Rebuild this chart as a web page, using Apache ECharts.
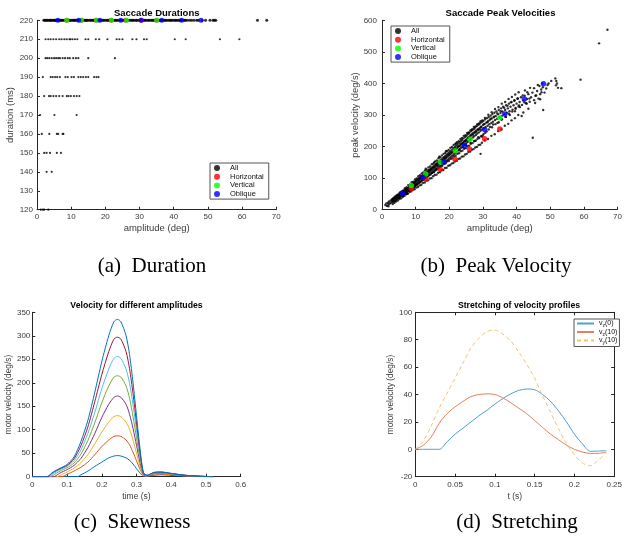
<!DOCTYPE html>
<html><head><meta charset="utf-8">
<script src="https://cdn.jsdelivr.net/npm/echarts@6/dist/echarts.min.js"></script>
<style>html,body{margin:0;padding:0;background:#fff}#c{width:625px;height:537px}</style>
</head><body><div id="c"></div>
<script>
// ---------- (a) Saccade Durations: amplitudes per duration row ----------
const durLevels = [220, 210, 200, 190, 180, 170, 160, 150, 140, 120];
const d220 = [2.0,2.3,2.6,2.9,3.2,3.6,3.9,4.1,4.4,4.8,5.1,5.3,5.5,6.0,6.4,6.7,7.0,7.3,7.6,8.0,8.3,8.5,8.8,9.2,9.5,9.7,10.0,10.4,10.7,10.9,11.2,11.6,11.9,12.1,12.4,12.9,13.3,13.6,14.0,14.3,14.5,14.8,15.3,15.7,16.0,16.4,16.7,16.9,17.2,17.7,18.1,18.4,18.9,19.3,19.6,20.1,20.5,20.8,21.2,21.5,21.7,22.0,22.5,22.9,23.2,23.6,24.1,24.4,24.9,25.3,25.6,26.0,26.5,26.8,27.3,27.7,28.0,28.4,28.9,29.2,29.7,30.1,30.4,30.9,31.3,31.6,32.0,32.5,32.8,33.3,33.7,34.0,34.4,34.9,35.2,35.7,36.1,36.4,36.9,37.3,37.6,38.0,38.5,38.9,39.2,39.6,40.1,40.5,40.8,41.3,41.7,42.0,42.6,43.1,43.4,43.9,44.6,45.2,45.9,46.7,47.2,48.3,49.3,50.6,51.5,51.9,52.3,64.5,67.2];
const d210 = [2.5,3.3,4.0,4.8,5.6,6.5,7.2,8.0,8.7,9.5,9.8,10.4,11.1,11.8,14.2,15.0,17.2,18.2,20.6,23.3,24.1,25.0,27.9,29.1,31.3,32.1,40.3,43.5,53.5,59.2];
const d200 = [2.5,3.0,3.6,4.3,5.0,5.6,6.2,6.7,7.5,8.2,9.0,9.6,10.6,11.4,12.1,15.0,22.8];
const d190 = [1.7,4.0,4.6,5.3,5.9,6.7,8.3,9.0,10.1,10.8,12.1,12.8,13.5,14.3,15.0,16.7,17.4,18.0];
const d180 = [2.1,3.5,4.0,4.8,5.6,6.5,7.5,8.7,9.2,9.9,10.8,11.6,12.4];
const d170 = [0.9,5.1,11.6];
const d160 = [1.4,3.6,5.8,6.2,7.5,7.7];
const d150 = [2.1,2.8,3.8,5.8,7.0];
const d140 = [2.8,4.3];
const d120 = [1.1,1.7,2.1,3.3];
const durRows = [d220, d210, d200, d190, d180, d170, d160, d150, d140, d120];

// Category targets (amplitude, duration, peak velocity)
const horizAmp = [8.7,13.0,17.3,21.7,26.0,30.5,35.0];
const horizDur = [220,220,220,220,220,220,220];
const horizVel = [67,97,128,160,192,225,256];
const vertAmp = [8.7,13.0,17.4,21.8,26.2,35.0];
const vertDur = [220,220,220,220,220,220];
const vertVel = [77,113,150,187,223,291];
const obliqAmp = [6.1,12.2,18.4,24.5,30.5,36.5,42.3,48.0];
const obliqDur = [220,220,220,220,220,220,220,220];
const obliqVel = [52,102,151,203,254,303,351,399];

// ---------- (b) all saccades: [amplitude, peak velocity] ----------
const allPV = [
[1.0,15],[1.3,20],[1.5,12],[1.8,22],[1.9,11],[2.0,17],[2.1,26],[2.4,20],[2.6,29],[2.8,23],[3.0,33],[3.1,26],[3.3,30],[3.5,37],[3.6,28],[3.8,34],[4.0,41],[4.1,31],[4.3,38],[4.5,44],[4.6,35],[4.8,41],[5.0,48],[5.1,38],[5.3,45],[5.4,52],
[5.6,45],[5.8,55],[5.9,49],[6.1,58],[6.2,43],[6.4,53],[6.5,60],[6.6,48],[6.8,56],[6.9,63],
[7.0,52],[7.1,60],[7.3,66],[7.4,57],[7.5,50],[7.6,63],[7.8,70],[7.9,59],[8.0,66],
[8.1,74],[8.2,62],[8.4,69],[8.5,77],[8.6,65],[8.8,72],[8.9,80],[9.0,68],[9.1,76],[9.3,84],[9.4,71],[9.5,79],[9.7,87],[9.8,74],[9.9,82],
[10.0,90],[10.1,78],[10.3,85],[10.4,95],[10.5,81],[10.7,89],[10.8,98],[10.9,84],[11.0,92],[11.2,101],[11.3,88],[11.4,96],[11.6,105],[11.7,91],[11.8,99],
[12.0,108],[12.1,94],[12.3,103],[12.4,112],[12.5,98],[12.7,106],[12.8,115],[12.9,101],[13.1,110],[13.2,119],[13.3,104],[13.5,113],[13.6,122],[13.7,107],[13.9,117],
[14.0,126],[14.1,111],[14.3,120],[14.4,129],[14.5,114],[14.7,124],[14.8,133],[14.9,117],[15.1,127],[15.2,136],[15.3,121],[15.5,131],[15.6,140],[15.7,124],[15.9,134],
[16.0,144],[16.1,128],[16.3,138],[16.4,147],[16.5,131],[16.7,141],[16.8,151],[16.9,135],[17.1,145],[17.2,155],[17.3,138],[17.5,149],[17.6,158],[17.7,142],[17.9,152],
[18.0,162],[18.2,146],[18.3,156],[18.4,166],[18.6,149],[18.7,160],[18.8,170],[19.0,153],[19.1,164],[19.2,174],[19.4,157],[19.5,168],[19.6,178],[19.8,161],[19.9,172],
[20.0,182],[20.2,165],[20.3,176],[20.4,187],[20.6,169],[20.7,180],[20.9,191],[21.0,172],[21.1,184],[21.3,195],[21.4,176],[21.5,188],[21.7,199],[21.8,180],[21.9,192],
[15.5,150],[19.0,185],[22.0,210],[13.0,130],[17.0,168],
[22.1,203],[22.3,184],[22.4,196],[22.5,208],[22.7,188],[22.8,200],[23.0,212],[23.1,192],[23.2,204],[23.4,217],[23.5,196],[23.7,208],[23.8,221],[23.9,200],
[24.1,213],[24.2,226],[24.4,205],[24.5,217],[24.7,230],[24.8,209],[24.9,221],[25.1,234],[25.2,213],[25.4,226],[25.5,239],[25.6,216],[25.8,230],[25.9,243],
[26.1,221],[26.2,235],[26.4,248],[26.5,225],[26.7,239],[26.8,252],[27.0,229],[27.1,243],[27.3,256],[27.4,233],[27.6,247],[27.7,260],[27.9,237],
[28.0,251],[28.2,265],[28.3,241],[28.5,255],[28.7,269],[28.8,245],[29.0,259],[29.1,273],[29.3,250],[29.4,263],[29.6,277],[29.8,254],[29.3,177],
[30.0,268],[30.1,281],[30.3,258],[30.5,272],[30.6,286],[30.8,262],[31.0,276],[31.2,290],[31.4,266],[31.5,280],[31.7,294],[31.9,271],
[32.0,284],[32.3,298],[32.5,275],[32.6,289],[32.8,303],[33.0,279],[33.2,293],[33.4,307],[33.6,284],[33.8,297],
[34.0,311],[34.2,288],[34.5,302],[34.7,316],[34.9,293],[35.2,306],[35.4,321],[35.6,297],[35.8,311],
[36.0,326],[36.3,302],[36.6,316],[36.9,331],[37.1,307],[37.4,321],[37.7,336],[37.9,312],
[38.2,326],[38.5,341],[38.8,317],[39.1,331],[39.4,346],[39.7,322],[40.0,336],[40.3,351],[40.6,327],
[40.9,341],[41.3,356],[41.6,332],[42.0,346],[42.4,361],[42.8,337],[43.1,351],[43.5,366],[43.9,342],[44.3,356],
[44.7,371],[44.8,228],[45.2,347],[45.6,361],[46.1,376],[46.5,352],[47.0,366],[47.3,381],[47.6,400],[47.8,388],[47.9,316],[48.3,371],[48.8,384],[49.2,395],
[51.5,416],[51.8,408],[52.0,400],[52.3,386],[51.7,394],[53.3,385],[59.0,412],[64.5,527],[67.0,570],[41.5,297],
[30.2,240],[29.7,232],[31.1,248],[32.1,262],[33.0,270],[27.5,218],[28.6,230],[25.0,205],[26.3,212],[34.3,275],[35.5,285],[36.8,294],[38.0,300],[39.5,312],[41.0,325],[43.0,336],[24.0,198],[23.0,190],
[3.2,18],[3.4,25],[3.05,30],[3.3,36],[3.7,22],[3.9,28],[3.55,35],[3.8,41],[4.2,26],[4.4,34],[4.05,38],[4.3,45],
[4.7,29],[4.9,37],[4.55,44],[4.8,48],[5.2,34],[5.4,40],[5.05,46],[5.3,55],[5.7,36],[5.9,45],[5.55,51],[5.8,58],
[6.2,41],[6.4,47],[6.05,56],[6.3,61],[6.7,44],[6.9,53],[6.55,59],[6.8,68],[7.2,49],[7.4,55],[7.05,64],[7.3,71],
[7.7,51],[7.9,61],[7.55,67],[7.8,78],[8.2,56],[8.4,63],[8.05,73],[8.3,80],[8.7,58],[8.9,69],[8.55,76],[8.8,87],
[9.2,63],[9.4,71],[9.05,82],[9.3,89],[9.7,65],[9.9,77],[9.55,85],[9.8,96],[10.2,70],[10.4,79],[10.05,91],[10.3,99],
[10.7,72],[10.9,85],[10.55,93],[10.8,106],[11.2,77],[11.4,87],[11.05,99],[11.3,109],[11.7,79],[11.9,93],[11.55,102],[11.8,115],
[12.2,85],[12.4,95],[12.05,108],[12.3,118],[12.7,86],[12.9,101],[12.55,111],[12.8,124],[13.2,92],[13.4,103],[13.05,117],[13.3,127],
[13.7,93],[13.9,109],[13.55,119],[13.8,134],[14.2,99],[14.4,111],[14.05,125],[14.3,137],[14.7,100],[14.9,117],[14.55,128],[14.8,144],
[15.2,106],[15.4,119],[15.05,133],[15.3,146],[15.7,110],[15.9,125],[15.55,136],[15.8,153],[16.2,111],[16.4,128],[16.05,142],[16.3,156],
[16.7,117],[16.9,133],[16.55,145],[16.8,163],[17.2,119],[17.4,137],[17.05,151],[17.3,166],[17.7,125],[17.9,139],[17.55,156],[17.8,172],
[18.2,126],[18.4,145],[18.05,158],[18.3,177],[18.7,132],[18.9,147],[18.55,164],[18.8,180],[19.2,133],[19.4,153],[19.05,167],[19.3,186],
[19.7,139],[19.9,155],[19.55,173],[19.8,189],[20.2,141],[20.4,161],[20.05,176],[20.3,196],[20.7,146],[20.9,163],[20.55,182],[20.8,199],
[21.2,148],[21.4,169],[21.05,184],[21.3,205],[21.7,153],[21.9,171],[21.55,191],[21.8,208],[22.2,155],[22.4,177],[22.05,193],[22.3,214],
[22.7,161],[22.9,179],[22.55,200],[22.8,217],[23.2,162],[23.4,185],[23.05,202],[23.3,224],[23.7,168],[23.9,187],[23.55,209],[23.8,227],
[24.2,169],[24.4,193],[24.05,211],[24.3,234],[24.7,175],[24.9,195],[24.55,217],[24.8,236],[25.2,177],[25.4,201],[25.05,220],[25.3,243],
[25.7,183],[25.9,203],[25.55,227],[25.8,245],[26.2,184],[26.4,209],[26.05,229],[26.3,252],[26.7,190],[26.9,211],[26.55,235],[26.8,255],
[27.2,192],[27.4,217],[27.05,238],[27.3,262],[27.7,197],[27.9,219],[27.55,244],[27.8,264],[28.2,199],[28.4,225],[28.05,247],[28.3,271],
[28.7,205],[28.9,227],[28.55,253],[28.8,273],[29.2,206],[29.4,233],[29.05,255],[29.3,280],[29.7,212],[29.9,235],[29.55,262],[29.8,283],
[30.5,219],[30.7,244],[30.3,271],[30.6,291],[31.5,224],[31.7,254],[31.3,277],[31.6,301],[32.5,234],[32.7,261],[32.3,288],[32.6,309],
[33.5,239],[33.7,271],[33.3,295],[33.6,319],[34.5,249],[34.7,277],[34.3,305],[34.6,325],[35.5,255],[35.7,287],[35.3,312],[35.6,336],
[36.5,266],[36.7,294],[36.3,323],[36.6,341],[37.5,272],[37.7,304],[37.3,329],[37.6,351],[38.5,283],[38.7,311],[38.3,340],[38.6,357],
[39.5,290],[39.7,320],[39.3,346],[39.6,365],[40.5,300],[40.7,330],[40.3,353],[40.6,372],[42.0,308],[42.3,340],[41.8,362],[42.5,378],
[43.5,320],[43.8,352],[43.2,372],[44.0,386],[45.5,338],[45.8,362],[45.2,385],[46.3,395],[47.0,350],[47.4,372],[46.8,392],[49.5,400],[50.3,408]
];

// ---------- (c) velocity profiles for different amplitudes: [t, v] ----------
const vel45  = [[0,0],[0.13,0],[0.14,4],[0.16,12],[0.18,22],[0.20,31],[0.22,40],[0.235,44],[0.245,45],[0.255,44],[0.27,40],[0.28,35],[0.29,27],[0.30,17],[0.31,8],[0.32,1],[0.33,1],[0.35,3],[0.37,4],[0.40,3],[0.44,1],[0.48,0],[0.52,0]];
const vel87  = [[0,0],[0.085,0],[0.10,5],[0.12,12],[0.14,20],[0.16,31],[0.18,47],[0.20,64],[0.22,78],[0.235,86],[0.245,87],[0.255,86],[0.27,78],[0.28,68],[0.29,52],[0.30,34],[0.31,16],[0.32,3],[0.33,1],[0.35,5],[0.37,6],[0.40,4],[0.44,2],[0.48,0.5],[0.52,0]];
const vel130 = [[0,0],[0.071,0],[0.08,3],[0.10,10],[0.12,18],[0.14,30],[0.16,47],[0.18,70],[0.20,95],[0.22,116],[0.235,128],[0.245,130],[0.255,128],[0.27,116],[0.28,101],[0.29,78],[0.30,50],[0.31,23],[0.32,4],[0.33,2],[0.35,6],[0.37,7],[0.40,5],[0.44,2],[0.48,1],[0.52,0]];
const vel172 = [[0,0],[0.061,0],[0.08,8],[0.10,15],[0.12,24],[0.14,39],[0.16,62],[0.18,92],[0.20,126],[0.22,154],[0.235,169],[0.245,172],[0.255,169],[0.27,154],[0.28,133],[0.29,103],[0.30,67],[0.31,31],[0.32,5],[0.33,2],[0.35,7],[0.37,8],[0.40,6],[0.44,2],[0.48,1],[0.52,0]];
const vel215 = [[0,0],[0.053,0],[0.06,3],[0.08,12],[0.10,19],[0.12,29],[0.14,48],[0.16,77],[0.18,115],[0.20,157],[0.22,193],[0.235,212],[0.245,215],[0.255,212],[0.27,193],[0.28,167],[0.29,128],[0.30,83],[0.31,38],[0.32,6],[0.33,2],[0.35,7],[0.37,9],[0.40,6],[0.44,3],[0.48,1],[0.52,0]];
const vel256 = [[0,0],[0.049,0],[0.06,6],[0.08,15],[0.10,22],[0.12,34],[0.14,57],[0.16,92],[0.18,137],[0.20,187],[0.22,229],[0.235,252],[0.245,256],[0.255,252],[0.27,229],[0.28,199],[0.29,153],[0.30,99],[0.31,46],[0.32,7],[0.33,2],[0.35,8],[0.37,9],[0.40,6],[0.44,3],[0.48,1],[0.52,0]];
const vel297 = [[0,0],[0.044,0],[0.06,9],[0.08,17],[0.10,24],[0.12,38],[0.14,66],[0.16,106],[0.18,160],[0.20,217],[0.22,266],[0.235,293],[0.245,297],[0.255,293],[0.27,266],[0.28,230],[0.29,177],[0.30,115],[0.31,53],[0.32,8],[0.33,3],[0.35,9],[0.37,10],[0.40,7],[0.44,3],[0.48,1],[0.52,0]];
const vel335 = [[0,0],[0.041,0],[0.06,10],[0.08,18],[0.10,26],[0.12,42],[0.14,75],[0.16,120],[0.18,180],[0.20,245],[0.22,300],[0.235,330],[0.245,335],[0.255,330],[0.27,300],[0.28,260],[0.29,200],[0.30,130],[0.31,60],[0.32,8],[0.33,3],[0.35,9],[0.37,10],[0.40,7],[0.44,3],[0.48,1],[0.52,0]];
const velCurves = [vel45, vel87, vel130, vel172, vel215, vel256, vel297, vel335];
const velColors = ['#0072BD','#D95319','#EDB120','#7E2F8E','#77AC30','#4DBEEE','#A2142F','#0072BD'];

// ---------- (d) stretching of velocity profiles ----------
const tD = [0,0.01,0.02,0.03,0.04,0.05,0.06,0.07,0.08,0.09,0.10,0.11,0.12,0.13,0.14,0.15,0.16,0.17,0.18,0.19,0.20,0.21,0.22,0.23,0.24];
const vz0  = [0,0,0,0,5.5,11,15.5,20,24.5,28.5,33,37,40.5,43,44,43.5,40,35,28,20,11,4,-1.5,-1.3,-1];
const vz10 = [0,3,9,19,26,31,35,38.5,40,40.5,40,37.5,34,30,26,21,16,11,7,3,0,-2,-3,-3,-2];
const vy10 = [0,6,17,30,41,52,63,74,81,86,87,84,79,71,62,52,39,27,15,4,-4,-10,-12,-8,-2];

const FONT = 'Liberation Sans';
const AXC = '#262626';
const LBL = '#3a3a3a';

function axis(gridIndex, min, max, interval, name, nameGap, isY, labelMargin, nameSize) {
  return {
    type: 'value', gridIndex, min, max, interval,
    name, nameLocation: 'middle', nameGap,
    nameTextStyle: { fontFamily: FONT, fontSize: nameSize, color: LBL },
    axisLine: { show: true, onZero: false, lineStyle: { color: AXC, width: 1 } },
    axisTick: { show: true, inside: true, length: 3, lineStyle: { color: AXC } },
    axisLabel: { fontFamily: FONT, fontSize: 8, color: LBL, margin: labelMargin, hideOverlap: false, showMinLabel: true, showMaxLabel: true },
    splitLine: { show: false }
  };
}
function frameAxis(gridIndex, min, max, interval, position) {
  return {
    type: 'value', gridIndex, min, max, interval, position,
    axisLine: { show: true, onZero: false, lineStyle: { color: AXC, width: 1 } },
    axisTick: { show: true, inside: true, length: 3, lineStyle: { color: AXC } },
    axisLabel: { show: false }, splitLine: { show: false }
  };
}

const series = [];
// (a)
const durAll = [];
durRows.forEach((row, i) => row.forEach(a => durAll.push([a, durLevels[i]])));
series.push({ type: 'scatter', name: 'All', xAxisIndex: 0, yAxisIndex: 0, data: durAll,
  symbolSize: v => (v[1] === 220 ? 3 : 2.2), itemStyle: { color: '#000' } });
series.push({ type: 'scatter', name: 'Horizontal', xAxisIndex: 0, yAxisIndex: 0, data: horizAmp.map((a, i) => [a, horizDur[i]]), symbolSize: 5, itemStyle: { color: '#ff0000' } });
series.push({ type: 'scatter', name: 'Vertical', xAxisIndex: 0, yAxisIndex: 0, data: vertAmp.map((a, i) => [a, vertDur[i]]), symbolSize: 5, itemStyle: { color: '#00ff00' } });
series.push({ type: 'scatter', name: 'Oblique', xAxisIndex: 0, yAxisIndex: 0, data: obliqAmp.map((a, i) => [a, obliqDur[i]]), symbolSize: 5, itemStyle: { color: '#0000ff' } });
// (b)
series.push({ type: 'scatter', name: 'All', xAxisIndex: 1, yAxisIndex: 1, data: allPV, symbolSize: 2.4, itemStyle: { color: '#000' } });
series.push({ type: 'scatter', name: 'Horizontal', xAxisIndex: 1, yAxisIndex: 1, data: horizAmp.map((a, i) => [a, horizVel[i]]), symbolSize: 5.5, itemStyle: { color: '#ff0000' } });
series.push({ type: 'scatter', name: 'Vertical', xAxisIndex: 1, yAxisIndex: 1, data: vertAmp.map((a, i) => [a, vertVel[i]]), symbolSize: 5.5, itemStyle: { color: '#00ff00' } });
series.push({ type: 'scatter', name: 'Oblique', xAxisIndex: 1, yAxisIndex: 1, data: obliqAmp.map((a, i) => [a, obliqVel[i]]), symbolSize: 5.5, itemStyle: { color: '#0000ff' } });
// (c)
velCurves.forEach((d, i) => series.push({
  type: 'line', name: 'amp' + i, xAxisIndex: 2, yAxisIndex: 2, data: d, symbol: 'none', smooth: 0.25,
  lineStyle: { color: velColors[i], width: 1 }, itemStyle: { color: velColors[i] }, z: 2
}));
// (d)
series.push({ type: 'line', name: 'vz0', xAxisIndex: 3, yAxisIndex: 3, data: tD.map((t, i) => [t, vz0[i]]), symbol: 'none', smooth: 0.3, lineStyle: { color: '#4f9fd6', width: 1 }, itemStyle: { color: '#4f9fd6' } });
series.push({ type: 'line', name: 'vz10', xAxisIndex: 3, yAxisIndex: 3, data: tD.map((t, i) => [t, vz10[i]]), symbol: 'none', smooth: 0.3, lineStyle: { color: '#e5805a', width: 1 }, itemStyle: { color: '#e5805a' } });
series.push({ type: 'line', name: 'vy10', xAxisIndex: 3, yAxisIndex: 3, data: tD.map((t, i) => [t, vy10[i]]), symbol: 'none', smooth: 0.3, lineStyle: { color: '#f2c668', width: 1, type: [4, 3] }, itemStyle: { color: '#f2c668' } });

const legendNames = ['All', 'Horizontal', 'Vertical', 'Oblique'];
function scatterLegend(left, top) {
  return {
    data: legendNames, orient: 'vertical', left, top, icon: 'circle',
    itemWidth: 16, itemHeight: 6, itemGap: 0.7, padding: [1, 5, 1, 4],
    borderColor: '#555', borderWidth: 1, backgroundColor: '#fff', selectedMode: false,
    textStyle: { fontFamily: FONT, fontSize: 7.5, lineHeight: 8, color: '#111' }
  };
}
const subNames = { vz0: ['z', '(0)'], vz10: ['z', '(10)'], vy10: ['y', '(10)'] };

function txt(x, y, text, font) {
  return { type: 'text', x, y, silent: true,
    style: { text, font, fill: '#000', align: 'center', verticalAlign: 'middle', textAlign: 'center', textVerticalAlign: 'middle' } };
}

const option = {
  animation: false,
  backgroundColor: '#fff',
  grid: [
    { left: 37, top: 20.3, width: 239.3, height: 189.4 },
    { left: 382, top: 20.3, width: 237, height: 189.4 },
    { left: 32.3, top: 312.3, width: 208.4, height: 164.4 },
    { left: 415.3, top: 312.3, width: 207.7, height: 164.4 }
  ],
  xAxis: [
    axis(0, 0, 70, 10, 'amplitude (deg)', 14, false, 3, 9.5),
    axis(1, 0, 70, 10, 'amplitude (deg)', 14, false, 3, 9.5),
    axis(2, 0, 0.6, 0.1, 'time (s)', 15, false, 4, 8.5),
    axis(3, 0, 0.25, 0.05, 't (s)', 15, false, 4, 8.5),
    frameAxis(3, 0, 0.25, 0.05, 'top')
  ],
  yAxis: [
    axis(0, 120, 220, 10, 'duration (ms)', 19, true, 4, 9.5),
    axis(1, 0, 600, 100, 'peak velocity (deg/s)', 20, true, 5, 9.3),
    axis(2, 0, 350, 50, 'motor velocity (deg/s)', 16, true, 2, 8.3),
    axis(3, -20, 100, 20, 'motor velocity (deg/s)', 16, true, 3, 8.3),
    frameAxis(3, -20, 100, 20, 'right')
  ],
  legend: [
    scatterLegend(210, 163),
    scatterLegend(391, 26),
    {
      data: ['vz0', 'vz10', 'vy10'], orient: 'vertical', left: 574, top: 319,
      itemWidth: 17, itemHeight: 2, itemGap: 0, padding: [1, 2, 1, 2],
      itemStyle: { opacity: 0 },
      borderColor: '#555', borderWidth: 1, backgroundColor: '#fff', selectedMode: false,
      formatter: n => '{v|v}{s|' + subNames[n][0] + '}{v|' + subNames[n][1] + '}',
      textStyle: { fontFamily: FONT, fontSize: 7, color: '#111',
        rich: { v: { fontFamily: FONT, fontSize: 7, lineHeight: 10, color: '#111' },
                s: { fontFamily: FONT, fontSize: 5, verticalAlign: 'bottom', color: '#111' } } }
    }
  ],
  graphic: [
    txt(156.7, 13, 'Saccade Durations', 'bold 9.5px "Liberation Sans"'),
    txt(500.5, 13.5, 'Saccade Peak Velocities', 'bold 9.5px "Liberation Sans"'),
    txt(136.5, 305.7, 'Velocity for different amplitudes', 'bold 8.7px "Liberation Sans"'),
    txt(519, 305.5, 'Stretching of velocity profiles', 'bold 8.7px "Liberation Sans"'),
    txt(152, 266, '(a)  Duration', '21px "Liberation Serif"'),
    txt(496, 266, '(b)  Peak Velocity', '21px "Liberation Serif"'),
    txt(132, 522, '(c)  Skewness', '21px "Liberation Serif"'),
    txt(517, 522, '(d)  Stretching', '21px "Liberation Serif"')
  ],
  series
};
const chart = echarts.init(document.getElementById('c'), null, { renderer: 'canvas' });
chart.setOption(option);
</script></body></html>
